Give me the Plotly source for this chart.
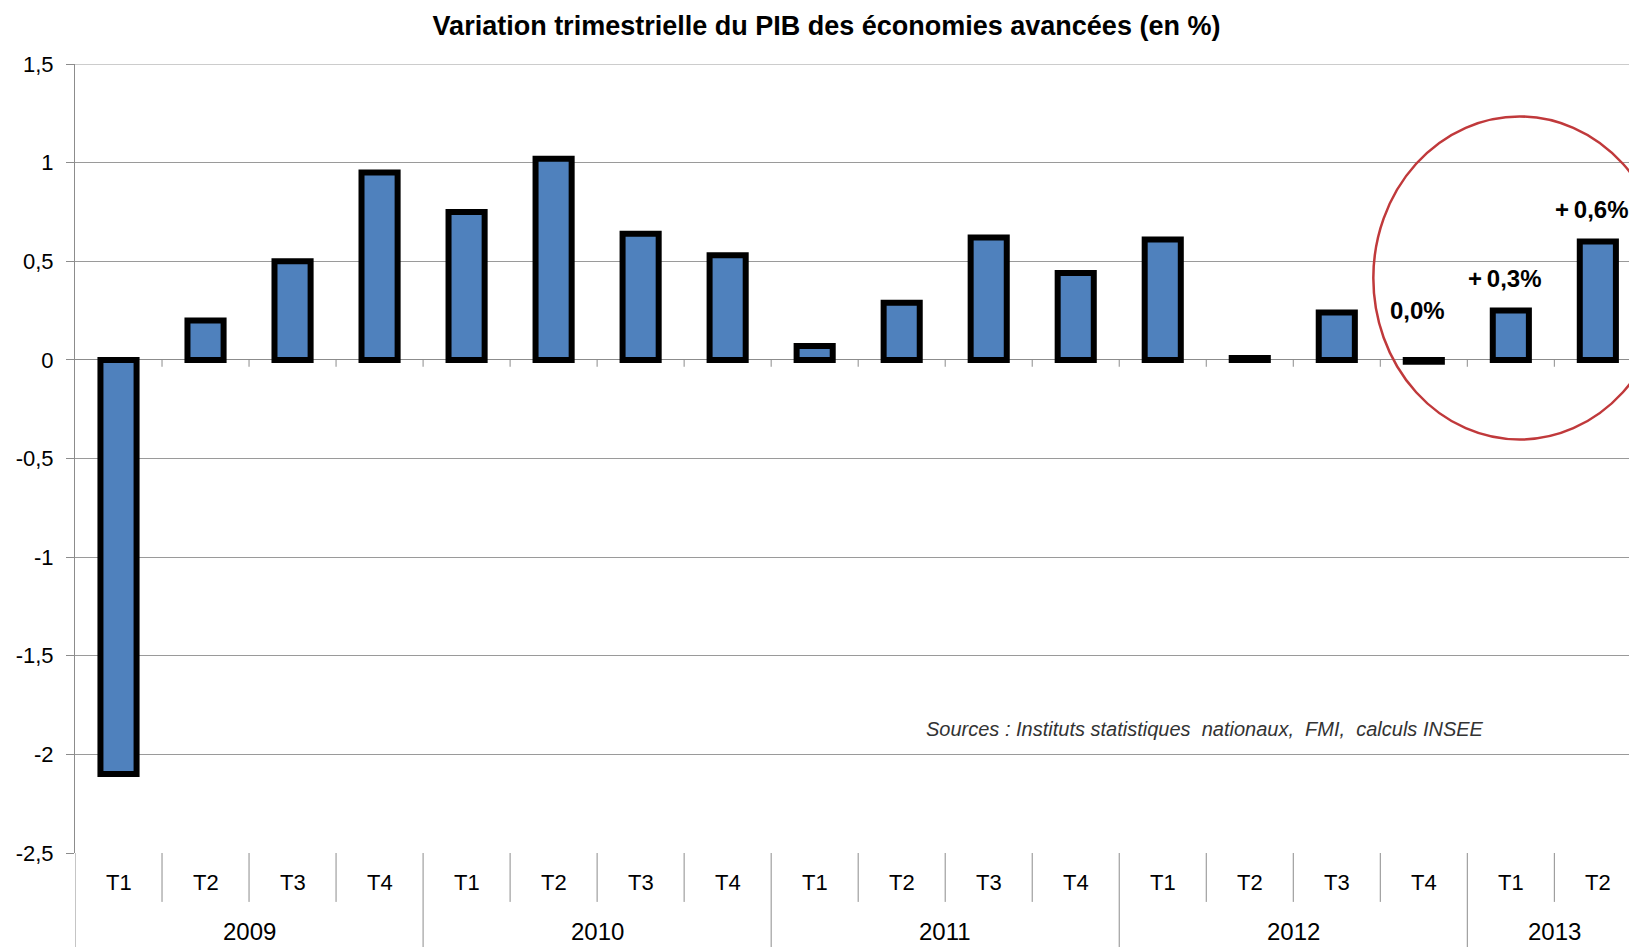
import plotly.graph_objects as go

# ---- data ----
years = ["2009"] * 4 + ["2010"] * 4 + ["2011"] * 4 + ["2012"] * 4 + ["2013"] * 2
quarters = ["T1", "T2", "T3", "T4"] * 4 + ["T1", "T2"]
values = [-2.10, 0.20, 0.50, 0.95,
          0.75, 1.02, 0.64, 0.53,
          0.07, 0.29, 0.62, 0.44,
          0.61, 0.01, 0.24, -0.01,
          0.25, 0.60]
y_ticks = [-2.5, -2, -1.5, -1, -0.5, 0, 0.5, 1, 1.5]
y_labels = ["-2,5", "-2", "-1,5", "-1", "-0,5", "0", "0,5", "1", "1,5"]
callout_idx = [15, 16, 17]
callout_text = ["0,0%", "+\u20090,3%", "+\u20090,6%"]
callout_y = [0.25, 0.415, 0.76]

title = "Variation trimestrielle du PIB des économies avancées (en %)"
source = "Sources : Instituts statistiques  nationaux,  FMI,  calculs INSEE"

FONT = "Liberation Sans, Arial, sans-serif"
GRID = "#9a9a9a"
AX = "#8c8c8c"

cats = [f"{y} {q}" for y, q in zip(years, quarters)]
n = len(cats)

fig = go.Figure()
fig.add_trace(go.Bar(
    x=cats, y=values,
    marker=dict(color="#4F81BD", line=dict(color="#000000", width=6)),
    showlegend=False, hoverinfo="skip",
))

fig.update_layout(
    width=1637, height=947,
    margin=dict(l=67, r=8, t=56, b=102),
    paper_bgcolor="white", plot_bgcolor="white",
    bargap=0.585,
    font=dict(family=FONT, color="#000000"),
    title=dict(text="<b>" + title + "</b>", x=0.5, xanchor="center", y=0.981, yanchor="middle",
               font=dict(family=FONT, size=27, color="#000000")),
    xaxis=dict(
        type="category", range=[-0.5, n - 0.55],
        showgrid=False, showline=False, zeroline=False,
        showticklabels=False, ticks="", fixedrange=True,
    ),
    yaxis=dict(
        range=[-2.5, 1.5], tickvals=y_ticks, ticktext=y_labels,
        showgrid=True, gridcolor=GRID, gridwidth=1,
        zeroline=True, zerolinecolor=AX, zerolinewidth=1,
        showline=True, linecolor=AX, linewidth=1,
        ticks="outside", ticklen=8, tickcolor=AX,
        ticklabelstandoff=8,
        tickfont=dict(family=FONT, size=22, color="#000000"),
        fixedrange=True,
    ),
)

# top gridline at 1.5 (range edge)
fig.add_shape(type="line", xref="paper", yref="y", x0=0, x1=1, y0=1.5, y1=1.5,
              line=dict(color=GRID, width=1), layer="below")

# category axis: quarter labels, year labels, separators
for c, q in zip(cats, quarters):
    fig.add_annotation(x=c, xref="x", y=-0.038, yref="paper", text=q, showarrow=False,
                       xanchor="center", yanchor="middle",
                       font=dict(family=FONT, size=22, color="#000000"))
for yr in sorted(set(years)):
    idx = [i for i, y in enumerate(years) if y == yr]
    mid = (idx[0] + idx[-1]) / 2
    fig.add_annotation(x=mid, xref="x", y=-0.100, yref="paper", text=yr, showarrow=False,
                       xanchor="center", yanchor="middle",
                       font=dict(family=FONT, size=24, color="#000000"))
for i in range(n + 1):
    b = i - 0.5
    year_break = i == 0 or i == n or years[i] != years[i - 1]
    fig.add_shape(type="line", xref="x", yref="paper", x0=b, x1=b,
                  y0=0, y1=-0.14 if year_break else -0.062,
                  line=dict(color=AX, width=1))
    if 0 < i < n:
        # small tick marks on the zero line
        fig.add_shape(type="line", xref="x", yref="y", x0=b, x1=b, y0=0, y1=-0.035,
                      line=dict(color=AX, width=1))

# value callouts
for i, t, yv in zip(callout_idx, callout_text, callout_y):
    fig.add_annotation(x=cats[i], xref="x", y=yv, yref="y", text="<b>" + t + "</b>",
                       showarrow=False, xanchor="center", yanchor="middle", xshift=-6,
                       font=dict(family=FONT, size=24, color="#000000"))

# red circle highlight
fig.add_shape(type="circle", xref="x", yref="y",
              x0=14.42, x1=17.78, y0=-0.404, y1=1.234,
              line=dict(color="#C0393B", width=2.5))

fig.add_annotation(text="<i>" + source + "</i>", xref="x", yref="y",
                   x=12.48, y=-1.872, showarrow=False, xanchor="center",
                   font=dict(family=FONT, size=20, color="#333333"))

fig.write_html("out.html")
